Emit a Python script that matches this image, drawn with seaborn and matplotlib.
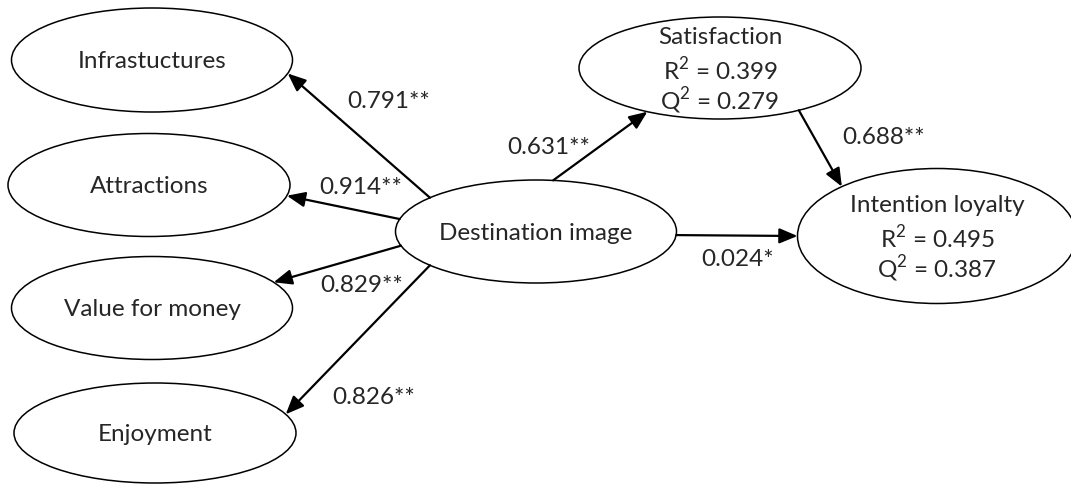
import numpy as np
import matplotlib
matplotlib.use("Agg")
import matplotlib.pyplot as plt
from matplotlib.patches import Ellipse, FancyArrowPatch
import seaborn as sns

# data
node_names = ["Infrastuctures", "Attractions", "Value for money", "Enjoyment",
              "Destination image", "Satisfaction", "Intention loyalty"]
r2_nodes = ["Satisfaction", "Intention loyalty"]
r2_values = [0.399, 0.495]
q2_values = [0.279, 0.387]

path_from = ["Destination image"] * 5 + ["Satisfaction", "Destination image"]
path_to = ["Infrastuctures", "Attractions", "Value for money", "Enjoyment",
           "Satisfaction", "Intention loyalty", "Intention loyalty"]
path_coef = [0.791, 0.914, 0.829, 0.826, 0.631, 0.688, 0.024]
path_sig = ["**", "**", "**", "**", "**", "**", "*"]

# layout (pixel space): centre x, centre y, width, height
node_box = {
    "Infrastuctures": (152, 60, 281, 104),
    "Attractions": (149, 185, 282, 103),
    "Value for money": (152, 308, 281, 103),
    "Enjoyment": (155, 433, 282, 100),
    "Destination image": (536, 231.5, 281, 103),
    "Satisfaction": (720, 68, 282, 102),
    "Intention loyalty": (937, 236, 279, 135),
}
# where each arrow leaves / meets the ellipse (parametric angle, degrees)
edge_angles = [(-139, 15), (-166, 12), (164, -30), (139, -22),
               (-83, 121), (56, -133), (4, 180)]
coef_pos = [(389, 102), (361, 188), (362, 285), (374, 397),
            (549, 147), (884, 137), (738, 259)]

sns.set_theme(style="white")
plt.rcParams['font.family'] = ['Lato', 'DejaVu Sans']
plt.rcParams['mathtext.fontset'] = 'custom'
plt.rcParams['mathtext.rm'] = 'Lato'
fs = 17.5


def on_ellipse(name, t):
    cx, cy, w, h = node_box[name]
    t = np.deg2rad(t)
    return cx + w / 2 * np.cos(t), cy + h / 2 * np.sin(t)


fig = plt.figure(figsize=(10.71, 4.84), dpi=100)
ax = fig.add_axes([0, 0, 1, 1])
ax.set_xlim(0, 1071)
ax.set_ylim(484, 0)
ax.axis('off')

for name in node_names:
    cx, cy, w, h = node_box[name]
    ax.add_patch(Ellipse((cx, cy), w, h, fill=False, edgecolor='black', lw=1.1))
    if name in r2_nodes:
        i = r2_nodes.index(name)
        lines = [name, f"R$^\\mathregular{{2}}$ = {r2_values[i]:.3f}",
                 f"Q$^\\mathregular{{2}}$ = {q2_values[i]:.3f}"]
        for k, line in enumerate(lines):
            ax.text(cx, cy - 30 + 31.5 * k, line, ha='center', va='center', fontsize=fs)
    else:
        ax.text(cx, cy + 1.5, name, ha='center', va='center', fontsize=fs)

for src, dst, (ta, tb), coef, sig, pos in zip(path_from, path_to, edge_angles,
                                              path_coef, path_sig, coef_pos):
    p0 = on_ellipse(src, ta)
    p1 = on_ellipse(dst, tb)
    ax.add_patch(FancyArrowPatch(p0, p1, arrowstyle='-|>,head_length=11,head_width=4.6',
                                 mutation_scale=1, shrinkA=0, shrinkB=0,
                                 color='black', lw=1.6))
    ax.text(pos[0], pos[1], f"{coef:.3f}{sig}", ha='center', va='center', fontsize=fs)

fig.savefig("out.png", dpi=100, facecolor='white')
